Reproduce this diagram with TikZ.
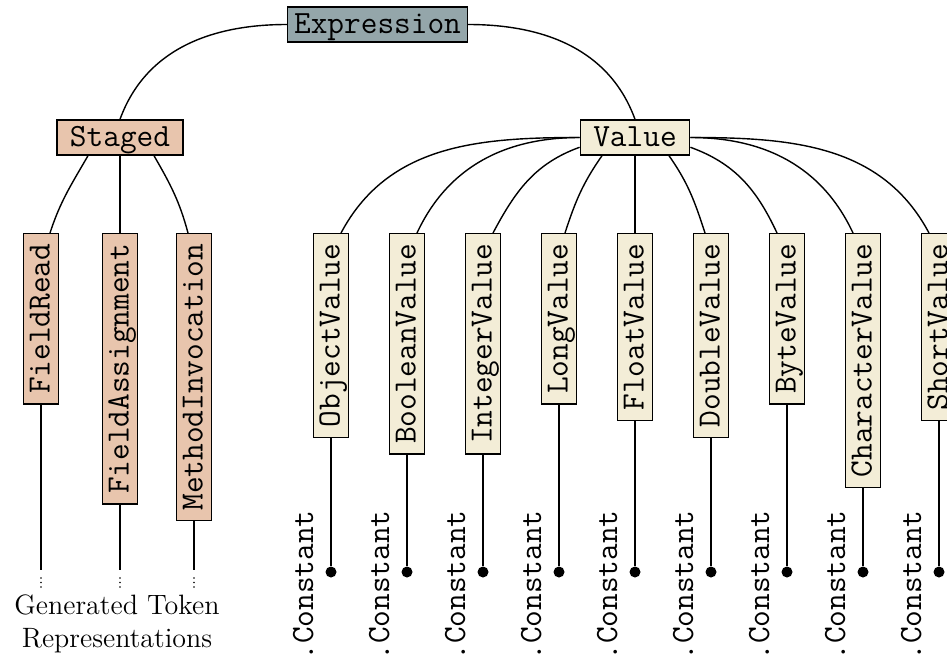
\documentclass[tikz,border=0pt]{standalone}
\usepackage{fontspec}
\usepackage{tikz}
\usetikzlibrary{positioning}

\definecolor{exprgrey}{HTML}{94A6AA}
\definecolor{stagedpeach}{HTML}{E8C5AD}
\definecolor{valuecream}{HTML}{F3EDD7}

\newcommand{\codefont}{\fontsize{16.2}{18}\selectfont\ttfamily}

\tikzset{
  tnode/.style={draw, line width=0.7pt, font=\codefont,
    text height=11pt, text depth=2.5pt, inner ysep=2pt},
  topbox/.style={tnode, fill=#1, inner xsep=6.5pt},
  vbox/.style={tnode, fill=#1, inner xsep=5pt, rotate=90, anchor=east},
  ball/.style={circle, fill, inner sep=0pt, minimum size=5.5pt},
  constlbl/.style={rotate=90, anchor=base east, inner sep=0pt, font=\codefont},
  edge/.style={line width=0.7pt},
  more/.style={line width=0.8pt, line cap=round, dash pattern=on 0pt off 2.25pt},
}

\begin{document}
\begin{tikzpicture}[x=0.5pt,y=0.5pt]
\useasboundingbox (0,0) rectangle (947,-659);

\node[topbox=exprgrey, inner xsep=3.3pt] (expr) at (377.5,-24.5) {Expression};
\node[topbox=stagedpeach] (staged) at (120,-137.5) {Staged};
\node[topbox=valuecream] (value) at (635,-137.5) {Value};

\draw[edge] (expr.west) to[out=180,in=70] (staged.north);
\draw[edge] (expr.east) to[out=0,in=110] (value.north);

% staged side
\node[vbox=stagedpeach] (fread) at (41,-233) {FieldRead};
\node[vbox=stagedpeach] (fassign) at (120,-233) {FieldAssignment};
\node[vbox=stagedpeach] (minvoke) at (194,-233) {MethodInvocation};

\draw[edge] ([xshift=-16pt]staged.south) to[out=240,in=72] ([xshift=4.5pt]fread.east);
\draw[edge] (staged.south) -- (fassign.east);
\draw[edge] ([xshift=17pt]staged.south) to[out=-60,in=105] ([xshift=-3pt]minvoke.east);

\coordinate (bot) at (0,-570);
\foreach \name in {fread,fassign,minvoke} {
  \coordinate (\name-end) at (\name.west |- bot);
  \draw[edge] (\name.west) -- (\name-end);
  \draw[more] ([yshift=-4pt]\name-end) -- ([yshift=-8.6pt]\name-end);
}

\node[align=center, inner sep=0pt, font=\fontsize{14}{16.5}\selectfont] (gen)
  at (117,-624) {Generated Token\\Representations};

% value side
\foreach \name/\lbl [count=\i] in {obj/ObjectValue, bool/BooleanValue,
    int/IntegerValue, long/LongValue, float/FloatValue, double/DoubleValue,
    byte/ByteValue, char/CharacterValue, short/ShortValue} {
  \node[vbox=valuecream] (\name) at (255+76*\i,-233) {\lbl};
  \node[ball] (d\i) at (255+76*\i,-572) {};
  \draw[edge] (\name.west) -- (d\i);
  \node[constlbl] at ([shift={(-18,62)}]d\i) {.Constant};
}

\draw[edge] (value.west) to[out=180,in=62] ([xshift=5pt]obj.east);
\draw[edge] (value.west) to[out=180,in=65] ([xshift=5pt]bool.east);
\draw[edge] (value.190) to[out=200,in=62] ([xshift=5pt]int.east);
\draw[edge] ([xshift=-16.5pt]value.south) to[out=235,in=72] ([xshift=3pt]long.east);
\draw[edge] (value.south) -- (float.east);
\draw[edge] ([xshift=17pt]value.south) to[out=-55,in=108] ([xshift=-3pt]double.east);
\draw[edge] (value.-10) to[out=-20,in=115] ([xshift=-5pt]byte.east);
\draw[edge] (value.east) to[out=0,in=115] ([xshift=-5pt]char.east);
\draw[edge] (value.east) to[out=0,in=118] ([xshift=-5pt]short.east);
\end{tikzpicture}
\end{document}
